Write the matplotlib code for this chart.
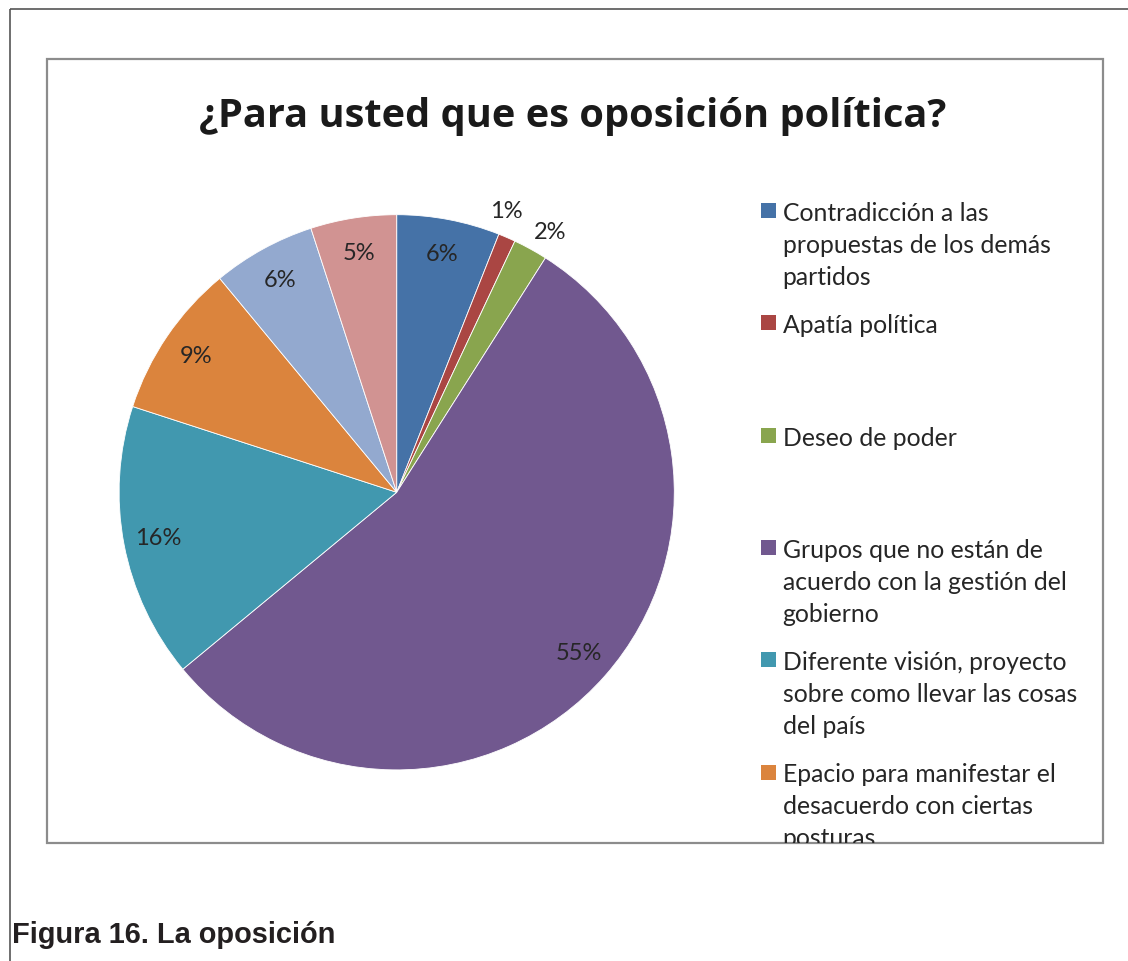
import numpy as np
import matplotlib
matplotlib.use("Agg")
import matplotlib.pyplot as plt
from matplotlib.patches import Rectangle

# Survey answers: share of respondents per answer (%)
values = [6, 1, 2, 55, 16, 9, 6, 5]
colors = ["#4572A7", "#AA4643", "#89A54E", "#71588F",
          "#4198AF", "#DB843D", "#93A9CF", "#D19392"]
legend_labels = [
    "Contradicción a las\npropuestas de los demás\npartidos",
    "Apatía política",
    "Deseo de poder",
    "Grupos que no están de\nacuerdo con la gestión del\ngobierno",
    "Diferente visión, proyecto\nsobre como llevar las cosas\ndel país",
    "Epacio para manifestar el\ndesacuerdo con ciertas\nposturas",
]
title = "¿Para usted que es oposición política?"
caption = "Figura 16. La oposición"

W, H = 1128, 962
DPI = 100
fig = plt.figure(figsize=(W / DPI, H / DPI), dpi=DPI)
fig.patch.set_facecolor("white")

TXT = "#262626"
FONT = "Lato"

# full-figure overlay in pixel coordinates
ov = fig.add_axes([0, 0, 1, 1])
ov.set_xlim(0, W)
ov.set_ylim(H, 0)
ov.axis("off")

# page frame lines
ov.plot([10, 10], [9.5, H], color="#555555", lw=1.2, solid_capstyle="butt")
ov.plot([10, W], [9.5, 9.5], color="#555555", lw=1.2, solid_capstyle="butt")

# chart box
bx0, by0, bx1, by1 = 46.5, 60, 1102.7, 843.5
box = Rectangle((bx0, by0), bx1 - bx0, by1 - by0, fill=False,
                edgecolor="#8c8c8c", lw=1.6)
ov.add_patch(box)

# title
ov.text((bx0 + bx1) / 2 - 2, 126.7, title, ha="center", va="baseline",
        fontsize=28.6, fontweight="bold", family="Open Sans", color="#1a1a1a")

# pie
cx, cy, R = 396.7, 493.3, 277.6
pax = fig.add_axes([(cx - R) / W, (H - cy - R) / H, 2 * R / W, 2 * R / H])
wedges, _, autotexts = pax.pie(
    values, colors=colors, startangle=90, counterclock=False,
    autopct=lambda p: f"{p:.0f}%", pctdistance=0.875,
    wedgeprops=dict(edgecolor="white", linewidth=0.6),
    textprops=dict(fontsize=17, family=FONT, color=TXT))
pax.set_xlim(-1, 1)
pax.set_ylim(-1, 1)
pax.axis("off")

# tiny slices get their labels outside the pie
outside_shift = {1: 2.2, 2: -1.6}
start = 90.0
total = sum(values)
for i, v in enumerate(values):
    span = 360.0 * v / total
    if i in outside_shift:
        mid = np.deg2rad(start - span / 2 + outside_shift[i])
        autotexts[i].set_position((1.09 * np.cos(mid), 1.09 * np.sin(mid)))
        autotexts[i].set_clip_on(False)
    start -= span

# legend (clipped by the chart box)
clip_rect = Rectangle((bx0, by0), bx1 - bx0, by1 - by0, transform=ov.transData)
base0, step, line_h = 221.0, 112.3, 32.0
for i, lab in enumerate(legend_labels):
    b = base0 + i * step
    sq = Rectangle((761, b - 17), 15, 15, facecolor=colors[i], edgecolor="none")
    ov.add_patch(sq)
    sq.set_clip_path(clip_rect)
    for j, line in enumerate(lab.split("\n")):
        t = ov.text(782.7, b + j * line_h, line, ha="left", va="baseline",
                    fontsize=17.8, family=FONT, color=TXT, clip_on=True)
        t.set_clip_path(clip_rect)

# figure caption
ov.text(11.5, 943.3, caption, ha="left", va="baseline", fontsize=20.9,
        fontweight="bold", family="Liberation Sans", color="#231f20")

fig.savefig("out.png", dpi=DPI, facecolor="white")
